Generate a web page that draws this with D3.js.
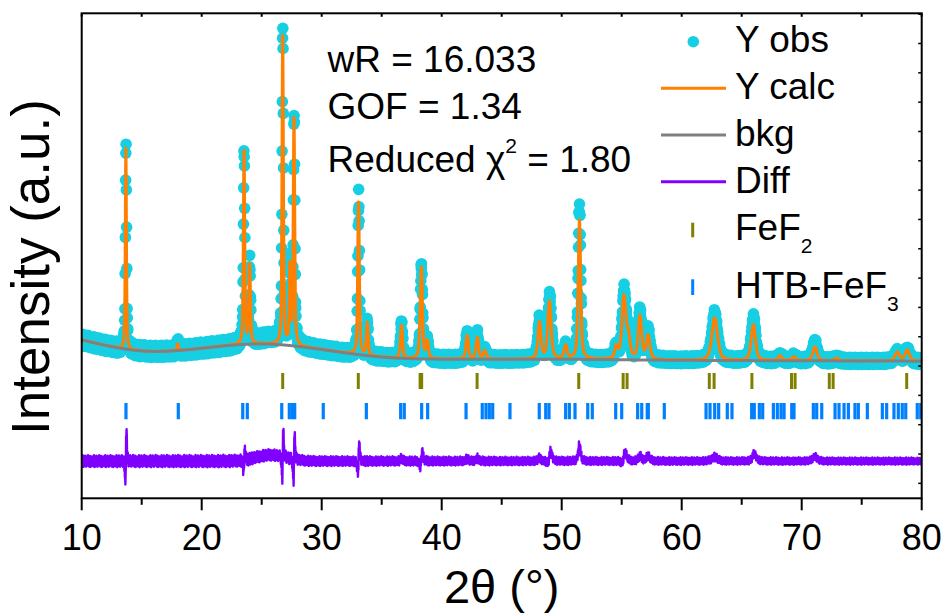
<!DOCTYPE html>
<html>
<head>
<meta charset="utf-8">
<script src="https://cdn.jsdelivr.net/npm/d3@7"></script>
<style>
  body { margin: 0; background: #fff; }
  svg { display: block; }
  text { font-family: "Liberation Sans", Arial, Helvetica, sans-serif; fill: #000; }
</style>
</head>
<body>
<svg id="chart" width="946" height="615"></svg>
<script>
// ---- Refinement data: FeF2 / HTB-FeF3, Cu Kα, 2θ = 10–80° ----

// Reflection profile table (position °2θ, calculated height above background, FWHM °)
const peakPos  = [13.68, 18.0, 23.53, 24.0, 26.75, 27.35, 27.69, 33.07, 33.8, 36.65, 38.3, 38.8,
                  42.12, 42.97, 43.6, 48.15, 48.98, 50.33, 51.48, 54.55, 55.18, 55.55, 56.52, 57.2,
                  62.75, 65.97, 68.2, 69.35, 71.1, 72.9, 77.97, 78.8];
const peakCalc = [3430, 115, 3350, 1340, 5360, 1330, 3925, 2630, 555, 560, 1560, 290,
                  400, 365, 140, 620, 980, 225, 2370, 200, 1050, 350, 730, 400,
                  725, 610, 80, 65, 235, 45, 150, 185];
const peakFwhm = [0.11, 0.15, 0.13, 0.15, 0.13, 0.13, 0.14, 0.16, 0.17, 0.2, 0.22, 0.22,
                  0.25, 0.25, 0.3, 0.3, 0.33, 0.3, 0.24, 0.3, 0.38, 0.35, 0.34, 0.35,
                  0.55, 0.42, 0.4, 0.4, 0.42, 0.4, 0.45, 0.45];
// Observed peaks: excess height over the fit and small position offset (°)
const peakObsExtra = [120, 0, -30, 0, 60, 0, 30, 60, 0, 50, 50, 0,
                      40, 50, 0, 50, 100, 0, 260, 0, 90, 0, 80, 90,
                      70, 110, 0, 0, 80, 0, 0, 0];
const peakObsShift = [0.011, 0, 0.005, 0, 0.007, 0, 0.01, 0.011, 0, 0, 0.013, 0,
                      0, 0, 0, 0, 0.02, 0, 0, 0, 0.02, 0, 0, 0,
                      0, 0.015, 0, 0, 0, 0, 0, 0];
// Broad scattering hump present only in the observed pattern
const humpPos = 25.8, humpHeight = 105, humpFwhm = 3.0;

// Background (smooth curve), control values every 5°
const bkgAt  = [10, 15, 20, 25, 30, 35, 40, 45, 50, 55, 60, 65, 70, 75, 80];
const bkgVal = [2447, 2200, 2300, 2420, 2285, 2130, 2115, 2115, 2118, 2108, 2098, 2093, 2090, 2087, 2083];

// Counting-scatter level (counts) versus 2θ and the measured residual pattern
const noiseAt    = [10, 22, 30, 50, 80];
const noiseLevel = [105, 110, 88, 72, 62];
const residualPattern = [0.62, -0.85, 0.31, -0.12, 0.94, -0.57, 0.08, -0.98, 0.45, -0.33, 0.71, -0.66,
                         0.19, -0.41, 0.88, -0.79, 0.27, -0.05, 0.53, -0.91, 0.36, -0.24, 0.77, -0.6,
                         0.12, -0.72, 0.96, -0.38, 0.44, -0.15, 0.68, -0.87, 0.23, -0.49, 0.83, -0.29,
                         0.58, -0.95, 0.07, -0.64, 0.39, -0.18, 0.74, -0.52, 0.15, -0.81, 0.49];

// Bragg reflection markers
const fef2Ticks = [26.75, 33.05, 38.2, 38.33, 42.95, 51.42, 55.12, 55.45, 62.3, 62.7, 65.85,
                   69.15, 69.45, 72.3, 72.62, 78.75];
const htbTicks  = [13.69, 18.05, 23.42, 23.8, 26.67, 27.3, 27.55, 27.75, 30.13, 33.72, 36.58, 36.88,
                   38.33, 38.83, 42.03, 43.38, 43.69, 43.97, 44.25, 45.69, 48.13, 48.67, 48.94,
                   50.33, 50.64, 51.11, 52.17, 52.55, 54.5, 55.0, 56.33, 56.67, 57.13, 57.22, 58.55,
                   62.03, 62.36, 62.75, 63.08, 63.8, 64.19, 65.83, 66.05, 66.47, 66.75, 67.64, 67.97,
                   68.28, 68.53, 69.17, 69.36, 70.97, 71.25, 71.67, 72.78, 73.11, 73.53, 73.89,
                   74.44, 74.72, 75.47, 76.72, 77.08, 77.69, 78.05, 78.38, 78.67, 79.63, 79.92];

// Axis ticks and texts
const xMajor = [10, 20, 30, 40, 50, 60, 70, 80];
const xMinor = [15, 25, 35, 45, 55, 65, 75];
const yTicks = d3.range(0, 8001, 500);
const statLines = ["wR = 16.033", "GOF = 1.34"];
const chiLine = { pre: "Reduced ", sym: "χ", sup: "2", post: " = 1.80" };
const legendItems = ["Y obs", "Y calc", "bkg", "Diff"];

// Offsets of the difference curve and marker rows (counts)
const diffOffset = 380;
const fef2Row = 1745, htbRow = 1232, rowHalf = 137;

// ---- Profile computation ----
const STEP = 0.02;
const ETA = 0.55;
const pv = (d, w) => { const q = (2 * d / w) ** 2; return ETA / (1 + q) + (1 - ETA) * Math.exp(-Math.LN2 * q); };
const bkgCurve = d3.interpolateBasis(bkgVal);
const bkgOf = t => bkgCurve((t - bkgAt[0]) / (bkgAt[bkgAt.length - 1] - bkgAt[0]));
const noiseOf = d3.scaleLinear().domain(noiseAt).range(noiseLevel).clamp(true);

const nPts = Math.round((80 - 10) / STEP) + 1;
const pattern = d3.range(nPts).map(i => {
  const t = 10 + i * STEP;
  const b = bkgOf(t);
  let calc = b, obs = b + humpHeight * Math.exp(-Math.LN2 * (2 * (t - humpPos) / humpFwhm) ** 2);
  for (let k = 0; k < peakPos.length; k++) {
    calc += peakCalc[k] * pv(t - peakPos[k], peakFwhm[k]);
    obs  += (peakCalc[k] + peakObsExtra[k]) * pv(t - peakPos[k] - peakObsShift[k], peakFwhm[k]);
  }
  obs += residualPattern[i % residualPattern.length] * noiseOf(t) * Math.sqrt(Math.max(1, obs / b));
  return { t, bkg: b, calc, obs, diff: obs - calc + diffOffset };
});

// ---- Drawing ----
const svg = d3.select("#chart");
const x = d3.scaleLinear().domain([10, 80]).range([81.7, 921.7]);
const y = d3.scaleLinear().domain([-255, 8015]).range([498.3, 13.3]);
const [x0, x1] = x.range(), [y0, y1] = y.range();

svg.append("clipPath").attr("id", "plotClip")
  .append("rect").attr("x", x0).attr("y", y1).attr("width", x1 - x0).attr("height", y0 - y1);

const plot = svg.append("g").attr("clip-path", "url(#plotClip)");

// observed points
plot.append("g").selectAll("circle").data(pattern).join("circle")
  .attr("cx", d => x(d.t)).attr("cy", d => y(d.obs)).attr("r", 5.8)
  .attr("fill", "#17CFE3");

const lineOf = key => d3.line().x(d => x(d.t)).y(d => y(d[key]));
plot.append("path").datum(pattern).attr("d", lineOf("calc"))
  .attr("fill", "none").attr("stroke", "#FF7F00").attr("stroke-width", 3).attr("stroke-linejoin", "round");
plot.append("path").datum(pattern).attr("d", lineOf("bkg"))
  .attr("fill", "none").attr("stroke", "#808080").attr("stroke-width", 3);
plot.append("path").datum(pattern).attr("d", lineOf("diff"))
  .attr("fill", "none").attr("stroke", "#8000FF").attr("stroke-width", 2.4).attr("stroke-linejoin", "round");

// reflection markers
plot.append("g").selectAll("line").data(fef2Ticks).join("line")
  .attr("x1", d => x(d)).attr("x2", d => x(d))
  .attr("y1", y(fef2Row + rowHalf)).attr("y2", y(fef2Row - rowHalf))
  .attr("stroke", "#808000").attr("stroke-width", 3);
plot.append("g").selectAll("line").data(htbTicks).join("line")
  .attr("x1", d => x(d)).attr("x2", d => x(d))
  .attr("y1", y(htbRow + rowHalf)).attr("y2", y(htbRow - rowHalf))
  .attr("stroke", "#0080FF").attr("stroke-width", 3.2);

// frame
const frame = svg.append("g").attr("stroke", "#000").attr("stroke-width", 2).attr("fill", "none");
frame.append("rect").attr("x", x0).attr("y", y1).attr("width", x1 - x0).attr("height", y0 - y1);

// bottom axis ticks (outward), top and right ticks (inward)
const ticks = svg.append("g").attr("stroke", "#000").attr("stroke-width", 2);
ticks.selectAll(".maj").data(xMajor).join("line").attr("class", "maj")
  .attr("x1", d => x(d)).attr("x2", d => x(d)).attr("y1", y0).attr("y2", y0 + 12);
ticks.selectAll(".min").data(xMinor).join("line").attr("class", "min")
  .attr("x1", d => x(d)).attr("x2", d => x(d)).attr("y1", y0).attr("y2", y0 + 6.5);
ticks.selectAll(".top").data(xMajor.concat(xMinor)).join("line").attr("class", "top")
  .attr("x1", d => x(d)).attr("x2", d => x(d)).attr("y1", y1).attr("y2", y1 + 3.5);
ticks.selectAll(".rgt").data(yTicks).join("line").attr("class", "rgt")
  .attr("x1", x1).attr("x2", x1 - 3.5).attr("y1", d => y(d)).attr("y2", d => y(d))
  .attr("stroke-width", 1.5);

svg.append("g").selectAll("text").data(xMajor).join("text")
  .attr("x", d => x(d)).attr("y", 550).attr("text-anchor", "middle")
  .attr("font-size", 36).text(d => d);

// axis titles
svg.append("text").attr("x", (x0 + x1) / 2).attr("y", 603).attr("text-anchor", "middle")
  .attr("font-size", 47).text("2θ (°)");
svg.append("text").attr("transform", "translate(49,267) rotate(-90)")
  .attr("text-anchor", "middle").attr("font-size", 53).text("Intensity (a.u.)");

// refinement statistics
const stats = svg.append("g").attr("font-size", 37);
stats.selectAll("text.s").data(statLines).join("text").attr("class", "s")
  .attr("x", 327.5).attr("y", (d, i) => 71.7 + i * 47).text(d => d);
const chi = stats.append("text").attr("x", 327.5).attr("y", 171.7);
chi.append("tspan").text(chiLine.pre);
chi.append("tspan").text(chiLine.sym);
chi.append("tspan").attr("font-size", 21).attr("dy", -19).text(chiLine.sup);
chi.append("tspan").attr("dy", 19).text(chiLine.post);

// legend
const lg = svg.append("g");
lg.append("circle").attr("cx", 693.3).attr("cy", 41.7).attr("r", 5.8).attr("fill", "#17CFE3");
[["#FF7F00", 88.3], ["#808080", 135], ["#8000FF", 181.7]].forEach(([c, ly]) =>
  lg.append("line").attr("x1", 661).attr("x2", 726).attr("y1", ly).attr("y2", ly)
    .attr("stroke", c).attr("stroke-width", 3));
lg.append("line").attr("x1", 692.7).attr("x2", 692.7).attr("y1", 222.7).attr("y2", 237.3)
  .attr("stroke", "#808000").attr("stroke-width", 3);
lg.append("line").attr("x1", 692.7).attr("x2", 692.7).attr("y1", 279.3).attr("y2", 295)
  .attr("stroke", "#0080FF").attr("stroke-width", 3);
const lt = lg.append("g").attr("font-size", 37);
lt.selectAll("text.l").data(legendItems).join("text").attr("class", "l")
  .attr("x", 735).attr("y", (d, i) => 52 + i * 47.1).text(d => d);
const f2 = lt.append("text").attr("x", 735).attr("y", 240);
f2.append("tspan").text("FeF");
f2.append("tspan").attr("font-size", 21).attr("dy", 13).text("2");
const f3 = lt.append("text").attr("x", 735).attr("y", 298.3);
f3.append("tspan").text("HTB-FeF");
f3.append("tspan").attr("font-size", 21).attr("dy", 13).text("3");
</script>
</body>
</html>
